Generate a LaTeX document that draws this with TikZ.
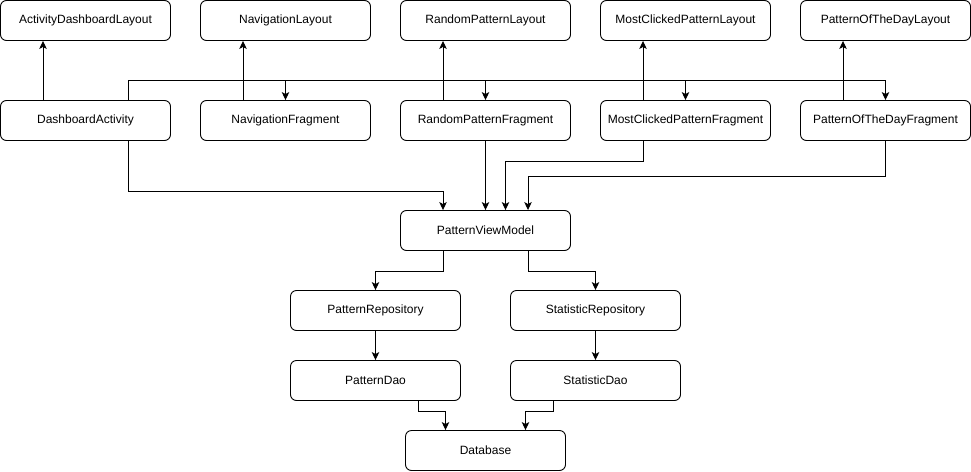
\documentclass[tikz,border=0pt]{standalone}
\usepackage{fontspec}
\setmainfont{Liberation Sans}
\usetikzlibrary{arrows.meta}

\begin{document}
\begin{tikzpicture}[x=1pt, y=-1pt,
    box/.style={draw, rounded corners=6pt, line width=0.9pt, minimum width=170pt, minimum height=40pt, inner sep=0pt, font=\fontsize{12}{14}\selectfont},
    arr/.style={-{Stealth[length=8pt, width=7.5pt, inset=2pt]}, line width=0.9pt}]
          \useasboundingbox (0,0) rectangle (971,471);

          % layouts
          \node[box] (adl) at (85.5,20.5) {ActivityDashboardLayout};
          \node[box] (nl) at (285.5,20.5) {NavigationLayout};
          \node[box] (rl) at (485.5,20.5) {RandomPatternLayout};
          \node[box] (ml) at (685.5,20.5) {MostClickedPatternLayout};
          \node[box] (pl) at (885.5,20.5) {PatternOfTheDayLayout};

          % activity and fragments
          \node[box] (da) at (85.5,120.5) {DashboardActivity};
          \node[box] (nf) at (285.5,120.5) {NavigationFragment};
          \node[box] (rf) at (485.5,120.5) {RandomPatternFragment};
          \node[box] (mf) at (685.5,120.5) {MostClickedPatternFragment};
          \node[box] (pf) at (885.5,120.5) {PatternOfTheDayFragment};

          \node[box] (pvm) at (485.5,230.5) {PatternViewModel};
          \node[box] (pr) at (375.5,310.5) {PatternRepository};
          \node[box] (sr) at (595.5,310.5) {StatisticRepository};
          \node[box] (pd) at (375.5,380.5) {PatternDao};
          \node[box] (sd) at (595.5,380.5) {StatisticDao};
          \node[box, minimum width=160pt] (db) at (485.5,450.5) {Database};

          \coordinate (bus) at (0,80.5);

          \draw [arr] ([xshift=-42.5pt]da.north) -- ([xshift=-42.5pt]adl.south);
          \draw [arr] ([xshift=-42.5pt]nf.north) -- ([xshift=-42.5pt]nl.south);
          \draw [arr] ([xshift=-42.5pt]rf.north) -- ([xshift=-42.5pt]rl.south);
          \draw [arr] ([xshift=-42.5pt]mf.north) -- ([xshift=-42.5pt]ml.south);
          \draw [arr] ([xshift=-42.5pt]pf.north) -- ([xshift=-42.5pt]pl.south);

          \draw [arr] ([xshift=42.5pt]da.north) |- (bus -| pf.north) -- (pf.north);
          \foreach \f in {nf, rf, mf}
            \draw [arr] (bus -| \f.north) -- (\f.north);

          \draw [arr] ([xshift=42.5pt]da.south) -- ++(0,50) -| ([xshift=-42.5pt]pvm.north);
          \draw [arr] (rf.south) -- (pvm.north);
          \draw [arr] ([xshift=-42.5pt]mf.south) -- ++(0,20) -| ([xshift=20pt]pvm.north);
          \draw [arr] (pf.south) -- ++(0,35) -| ([xshift=42.5pt]pvm.north);

          \draw [arr] ([xshift=-42.5pt]pvm.south) -- ++(0,20) -| (pr.north);
          \draw [arr] ([xshift=42.5pt]pvm.south) -- ++(0,20) -| (sr.north);
          \draw [arr] (pr.south) -- (pd.north);
          \draw [arr] (sr.south) -- (sd.north);

          \draw [arr] ([xshift=42.5pt]pd.south) -- ++(0,10) -| ([xshift=-40pt]db.north);
          \draw [arr] ([xshift=-42.5pt]sd.south) -- ++(0,10) -| ([xshift=40pt]db.north);

        \end{tikzpicture}
\end{document}
